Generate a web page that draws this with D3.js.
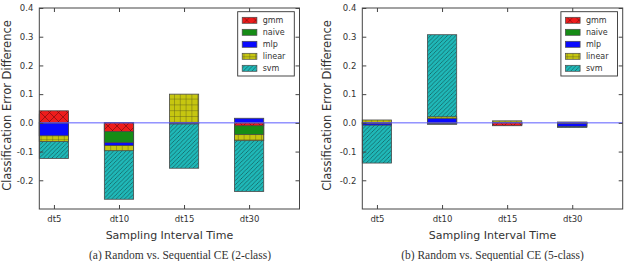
<html>
  <head>
    <title>Random vs. Sequential CE</title>
    <script src="https://d3js.org/d3.v7.min.js"></script>
    <style>
      body { margin: 0; background: #fff; }
      svg text { font-family: "DejaVu Sans", sans-serif; fill: #333; }
    </style>
  </head>

  <body>
    <svg id="chart" width="625" height="261"></svg>

    <script>
      var categories = ["dt5", "dt10", "dt15", "dt30"];
      var models = ["gmm", "naive", "mlp", "linear", "svm"];
      var yTicks = [0.4, 0.3, 0.2, 0.1, 0.0, -0.1, -0.2];

      // (a) 2-class: error difference per sampling interval
      var gmm2 = [0.042, -0.03, -0.001, -0.01];
      var naive2 = [0.03, -0.069, -0.002, -0.041];
      var mlp2 = [-0.045, -0.079, -0.004, 0.016];
      var linear2 = [-0.065, -0.097, 0.1, -0.062];
      var svm2 = [-0.124, -0.266, -0.158, -0.239];

      // (b) 5-class
      var gmm5 = [-0.002, -0.003, -0.01, -0.001];
      var naive5 = [-0.001, -0.005, -0.006, -0.002];
      var mlp5 = [-0.008, 0.015, -0.004, -0.013];
      var linear5 = [0.01, 0.021, 0.007, 0.003];
      var svm5 = [-0.14, 0.307, -0.008, -0.016];

      var fills = {
        gmm: "#ee1c1c",
        naive: "#168c16",
        mlp: "#0a0aff",
        linear: "#c6c610",
        svm: "#1fb8b8",
      };

      var svg = d3.select("#chart");
      var barWidth = 0.45;

      // hatch patterns, roughly like matplotlib's 'x', '+' and '//'
      var defs = svg.append("defs");

      var pGmm = defs.append("pattern")
        .attr("id", "fill-gmm")
        .attr("patternUnits", "userSpaceOnUse")
        .attr("width", 9)
        .attr("height", 9);
      pGmm.append("rect").attr("width", 9).attr("height", 9).attr("fill", fills.gmm);
      pGmm.append("path")
        .attr("d", "M0,0 L9,9 M9,0 L0,9")
        .attr("stroke", "#6a0c0c")
        .attr("stroke-width", 0.6);

      var pLinear = defs.append("pattern")
        .attr("id", "fill-linear")
        .attr("patternUnits", "userSpaceOnUse")
        .attr("width", 5.8)
        .attr("height", 5.8);
      pLinear.append("rect").attr("width", 5.8).attr("height", 5.8).attr("fill", fills.linear);
      pLinear.append("path")
        .attr("d", "M0,0 H5.8 M0,0 V5.8")
        .attr("stroke", "#58581a")
        .attr("stroke-width", 0.8);

      var pSvm = defs.append("pattern")
        .attr("id", "fill-svm")
        .attr("patternUnits", "userSpaceOnUse")
        .attr("width", 4.2)
        .attr("height", 4.2);
      pSvm.append("rect").attr("width", 4.2).attr("height", 4.2).attr("fill", fills.svm);
      pSvm.append("path")
        .attr("d", "M-1,1 L1,-1 M0,4.2 L4.2,0 M3.2,5.2 L5.2,3.2")
        .attr("stroke", "#134848")
        .attr("stroke-width", 0.6);

      function fillFor(m) {
        if (m == "gmm" || m == "linear" || m == "svm") return "url(#fill-" + m + ")";
        return fills[m];
      }

      function drawPanel(left, right, series, caption, captionX) {
        var top = 8, bottom = 209;

        var x = d3.scaleLinear().domain([0, 4]).range([left, right]);
        var y = d3.scaleLinear().domain([-0.3, 0.4]).range([bottom, top]);

        var g = svg.append("g");

        // bars overlap, drawn from 0; svm first, gmm last (on top)
        var order = models.slice().reverse();
        order.forEach(function (m) {
          g.selectAll(".bar-" + m)
            .data(series[m])
            .enter()
            .append("rect")
            .attr("class", "bar-" + m)
            .attr("x", function (d, i) { return x(i); })
            .attr("width", x(barWidth) - x(0))
            .attr("y", function (d) { return y(Math.max(0, d)); })
            .attr("height", function (d) { return Math.abs(y(d) - y(0)); })
            .attr("fill", fillFor(m))
            .attr("stroke", "#4a4a4a")
            .attr("stroke-width", 0.8);
        });

        // zero line
        g.append("line")
          .attr("x1", left)
          .attr("x2", right)
          .attr("y1", y(0))
          .attr("y2", y(0))
          .attr("stroke", "#5c5cff")
          .attr("stroke-width", 1);

        // axes with inward ticks
        var tickPos = categories.map(function (c, i) { return i + barWidth / 2; });

        g.append("g")
          .attr("transform", "translate(" + left + ",0)")
          .call(d3.axisLeft(y).tickValues(yTicks).tickSize(-4).tickPadding(6)
            .tickFormat(function (d) { return d.toFixed(1); }));
        g.append("g")
          .attr("transform", "translate(" + right + ",0)")
          .call(d3.axisRight(y).tickValues(yTicks).tickSize(-4).tickFormat(""));

        g.append("g")
          .attr("transform", "translate(0," + bottom + ")")
          .call(d3.axisBottom(x).tickValues(tickPos).tickSize(-4).tickPadding(7)
            .tickFormat(function (d, i) { return categories[i]; }));
        g.append("g")
          .attr("transform", "translate(0," + top + ")")
          .call(d3.axisTop(x).tickValues(tickPos).tickSize(-4).tickFormat(""));

        g.selectAll(".domain").remove();
        g.selectAll(".tick line").attr("stroke", "#444");
        g.selectAll(".tick text").style("font-size", "8.5px").attr("fill", "#333");

        // frame
        g.append("rect")
          .attr("x", left)
          .attr("y", top)
          .attr("width", right - left)
          .attr("height", bottom - top)
          .attr("fill", "none")
          .attr("stroke", "#444")
          .attr("stroke-width", 1);

        // axis labels
        g.append("text")
          .attr("transform", "translate(" + Math.max(left - 35, 6.5) + "," + ((top + bottom) / 2 - 3) + ") rotate(-90)")
          .attr("text-anchor", "middle")
          .attr("dy", "0.35em")
          .style("font-size", "11.5px")
          .text("Classification Error Difference");

        g.append("text")
          .attr("x", (left + right) / 2)
          .attr("y", 239)
          .attr("text-anchor", "middle")
          .style("font-size", "11px")
          .text("Sampling Interval Time");

        g.append("text")
          .attr("x", captionX)
          .attr("y", 259)
          .attr("text-anchor", "middle")
          .style("font-family", "'Liberation Serif', serif")
          .style("font-size", "11.5px")
          .attr("fill", "#222")
          .text(caption);

        // legend
        var lx = right - 61.8, ly = 11.7;
        var legend = g.append("g").attr("transform", "translate(" + lx + "," + ly + ")");
        legend.append("rect")
          .attr("width", 56.6)
          .attr("height", 64.3)
          .attr("fill", "#fff")
          .attr("stroke", "#333")
          .attr("stroke-width", 0.9);
        models.forEach(function (m, i) {
          var row = legend.append("g").attr("transform", "translate(0," + (8.6 + i * 12) + ")");
          row.append("rect")
            .attr("x", 4.5)
            .attr("y", -3)
            .attr("width", 14.7)
            .attr("height", 6)
            .attr("fill", fillFor(m))
            .attr("stroke", "#4a4a4a")
            .attr("stroke-width", 0.7);
          row.append("text")
            .attr("x", 25)
            .attr("dy", "0.32em")
            .style("font-size", "8px")
            .text(m);
        });
      }

      drawPanel(39.3, 299.5,
        { gmm: gmm2, naive: naive2, mlp: mlp2, linear: linear2, svm: svm2 },
        "(a) Random vs. Sequential CE (2-class)", 180);
      drawPanel(362.3, 622.7,
        { gmm: gmm5, naive: naive5, mlp: mlp5, linear: linear5, svm: svm5 },
        "(b) Random vs. Sequential CE (5-class)", 492.5);
    </script>
  </body>
</html>
